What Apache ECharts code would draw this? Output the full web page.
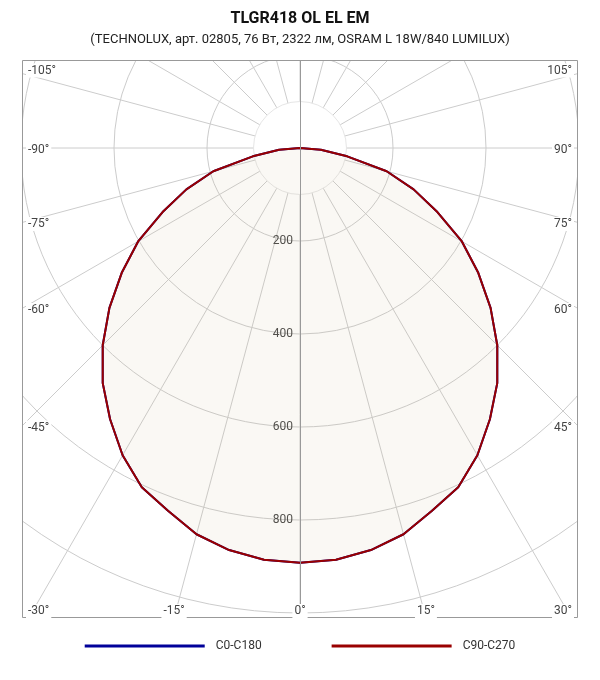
<!DOCTYPE html>
<html><head><meta charset="utf-8">
<script src="https://cdn.jsdelivr.net/npm/echarts@6/dist/echarts.min.js"></script>
<style>html,body{margin:0;padding:0;background:#fff}#c{width:600px;height:680px}</style>
</head><body><div id="c"></div>
<script>
// ---- data ----
const titleText = 'TLGR418 OL EL EM';
const subtitleText = '(TECHNOLUX, арт. 02805, 76 Вт, 2322 лм, OSRAM L 18W/840 LUMILUX)';
const seriesNames = ['C0-C180', 'C90-C270'];
const gammaAngles = [-90,-85,-80,-75,-70,-65,-60,-55,-50,-45,-40,-35,-30,-25,-20,-15,-10,-5,0,5,10,15,20,25,30,35,40,45,50,55,60,65,70,75,80,85,90];
const c0c180  = [0,45,103,193,260,326,402,468,535,600,660,712,763,805,830,860,878,889,892,889,878,860,830,805,763,712,660,600,535,468,402,326,260,193,103,45,0];
const c90c270 = [0,45,103,193,260,326,402,468,535,600,660,712,763,805,830,860,878,889,892,889,878,860,830,805,763,712,660,600,535,468,402,326,260,193,103,45,0];
const radialTickLabels = [200, 400, 600, 800];
const angleTickLabels = [-105,-90,-75,-60,-45,-30,-15,0,15,30,45,60,75,90,105];

// ---- layout ----
const CX = 300, CY = 148;
const RMAX = 1200, PX_PER_UNIT = 0.465;
const RPX = RMAX * PX_PER_UNIT;
const X0 = 22, X1 = 578, Y0 = 60, Y1 = 618;
const FONT = 'Roboto, "Noto Sans", sans-serif';

function toPolar(vals){
  return vals.map((v,i)=>{ const a = gammaAngles[i]; return [v, a < 0 ? 360 + a : a]; });
}

function edgePoint(th){
  const a = th*Math.PI/180, dx = Math.sin(a), dy = Math.cos(a);
  let t = Infinity, edge = '';
  if (dx < -1e-9){ const tt=(X0-CX)/dx; if (tt<t){t=tt;edge='left';} }
  if (dx >  1e-9){ const tt=(X1-CX)/dx; if (tt<t){t=tt;edge='right';} }
  if (dy >  1e-9){ const tt=(Y1-CY)/dy; if (tt<t){t=tt;edge='bottom';} }
  if (dy < -1e-9){ const tt=(Y0-CY)/dy; if (tt<t){t=tt;edge='top';} }
  return {x: CX+dx*t, y: CY+dy*t, edge};
}

const graphics = [];
// inner disc hiding spokes near center
graphics.push({type:'circle', z:1, silent:true, shape:{cx:CX, cy:CY, r:100*PX_PER_UNIT},
  style:{fill:'#fff', stroke:'#e6e6e6', lineWidth:1}});
// vertical axis line
graphics.push({type:'line', z:3, silent:true, shape:{x1:CX+0.5, y1:Y0, x2:CX+0.5, y2:Y1},
  style:{stroke:'#999', lineWidth:1}});
// masks outside plot rect
[[0,0,600,Y0],[0,Y1,600,680-Y1],[0,Y0,X0,Y1-Y0],[X1,Y0,600-X1,Y1-Y0]].forEach(r=>{
  graphics.push({type:'rect', z:50, silent:true, shape:{x:r[0],y:r[1],width:r[2],height:r[3]}, style:{fill:'#fff'}});
});
// frame
graphics.push({type:'rect', z:51, silent:true, shape:{x:X0+0.5,y:Y0+0.5,width:X1-X0-1,height:Y1-Y0-1},
  style:{fill:'none', stroke:'#999', lineWidth:1}});
// angle labels at the frame edges
angleTickLabels.forEach(th=>{
  const p = edgePoint(th);
  const txt = th + '°';
  let x, y, align;
  const dyOff = Math.abs(th) > 90 ? -3 : 1.5;
  if (p.edge === 'left'){ x = X0+4; align='left'; y = p.y + dyOff; }
  else if (p.edge === 'right'){ x = X1-4; align='right'; y = p.y + dyOff; }
  else if (p.edge === 'bottom'){
    y = Y1-7;
    if (p.x - 12 < X0+4){ x = X0+4; align='left'; }
    else if (p.x + 12 > X1-4){ x = X1-4; align='right'; }
    else { x = p.x; align='center'; }
  } else return;
  graphics.push({type:'text', z:52, silent:true,
    style:{text:txt, x:x, y:y, align:align, verticalAlign:'middle', font:'12px '+FONT, fill:'#444',
      backgroundColor:'#fff', padding:[1,2,1,2]}});
});

const chart = echarts.init(document.getElementById('c'));
chart.setOption({
  backgroundColor:'#fff',
  animation:false,
  title:{ text:titleText, subtext:subtitleText, left:'center', top:6, itemGap:6, z:100,
    textStyle:{fontFamily:FONT, fontSize:16, fontWeight:'bold', color:'#111'},
    subtextStyle:{fontFamily:FONT, fontSize:13, color:'#222'} },
  legend:{ data:seriesNames, bottom:23, left:'center', z:100, icon:'rect', itemWidth:120, itemHeight:3, itemGap:70,
    textStyle:{fontFamily:FONT, fontSize:12, color:'#333', padding:[0,0,0,6]} },
  polar:{ center:[CX, CY], radius:RPX },
  angleAxis:{ type:'value', min:0, max:360, interval:15, startAngle:-90, clockwise:false,
    axisLine:{show:false}, axisTick:{show:false}, axisLabel:{show:false},
    splitLine:{show:true, lineStyle:{color:'#cccccc', width:1}} },
  radiusAxis:{ type:'value', min:0, max:RMAX, interval:200,
    axisLine:{show:false}, axisTick:{show:false},
    axisLabel:{show:true, margin:-7, align:'right', fontFamily:FONT, fontSize:12, color:'#444',
      formatter:(v)=> radialTickLabels.indexOf(v) >= 0 ? String(v) : ''},
    splitLine:{show:true, lineStyle:{color:'#cccccc', width:1}} },
  graphic: graphics,
  series:[
    { name:seriesNames[0], type:'line', coordinateSystem:'polar', data:toPolar(c0c180), symbol:'none',
      lineStyle:{color:'#000099', width:2}, itemStyle:{color:'#000099'}, z:2 },
    { name:seriesNames[1], type:'line', coordinateSystem:'polar', data:toPolar(c90c270), symbol:'none',
      lineStyle:{color:'#990000', width:2}, itemStyle:{color:'#990000'},
      areaStyle:{color:'rgba(210,190,150,0.15)', origin:'start'}, z:2 }
  ]
});
</script>
</body></html>
